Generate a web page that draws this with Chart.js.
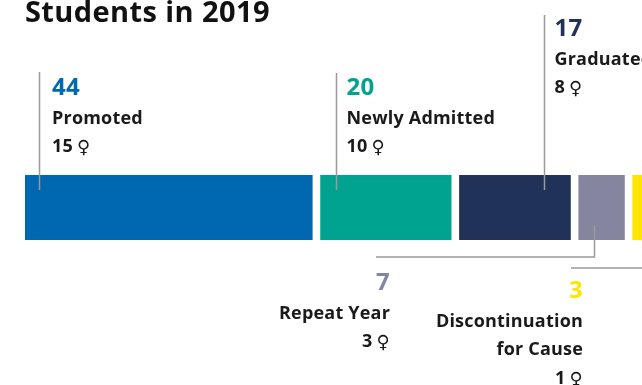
<!DOCTYPE html>
<html lang="en">
<head>
    <meta charset="UTF-8">
    <title>Students in 2019</title>
    <script src="https://cdn.jsdelivr.net/npm/chart.js"></script>
    <style>
        html, body {
            margin: 0;
            padding: 0;
            background: #fff;
            overflow: hidden;
        }
    </style>
</head>
<body>
    <canvas id="studentsCanvas" width="642" height="385"></canvas>

    <script>
        // Data
        const categories = [
            ['Promoted'],
            ['Newly Admitted'],
            ['Graduated'],
            ['Repeat Year'],
            ['Discontinuation', 'for Cause'],
        ];
        const students = [44, 20, 17, 7, 3];
        const women = [15, 10, 8, 3, 1];
        const colors = ['#0067b1', '#00a38f', '#213259', '#8585a0', '#ffe500'];

        // segments sit side by side with a small white gap between them
        const gap = 1.27;
        const starts = [];
        let run = 0;
        students.forEach((v) => { starts.push(run); run += v + gap; });

        // where each callout goes (pixels)
        const callouts = [
            { side: 'top', lineDx: 13.5, lineTop: 72, textDx: 12.5, baseY: 95 },
            { side: 'top', lineDx: 15, lineTop: 73, textDx: 10, baseY: 95 },
            { side: 'top', lineDx: 85, lineTop: 15, textDx: 10, baseY: 36 },
            { side: 'bottom', lineDx: 15, elbowY: 257, elbowX: 376, textX: 390, baseY: 290 },
            { side: 'bottom', lineDx: 15, elbowY: 268, elbowX: 571, textX: 583, baseY: 298 },
        ];

        const labelFont = '700 18px "Open Sans"';
        const symbolFont = '700 18px "DejaVu Sans"';

        const calloutPlugin = {
            id: 'callouts',
            afterDatasetsDraw(chart) {
                const ctx = chart.ctx;
                const x = chart.scales.x;
                const area = chart.chartArea;
                ctx.save();

                ctx.fillStyle = '#111';
                ctx.font = '700 29px "Open Sans"';
                ctx.letterSpacing = '0.4px';
                ctx.textBaseline = 'alphabetic';
                ctx.textAlign = 'left';
                ctx.fillText('Students in 2019', 25, 22);
                ctx.letterSpacing = '0.2px';

                ctx.strokeStyle = '#9a9a9a';
                ctx.lineWidth = 1.5;

                callouts.forEach((c, i) => {
                    const lx = Math.round(x.getPixelForValue(starts[i]) + c.lineDx) + 0.5;
                    const right = c.side === 'bottom';
                    ctx.beginPath();
                    let tx;
                    if (!right) {
                        ctx.moveTo(lx, c.lineTop);
                        ctx.lineTo(lx, area.top + 15);
                        tx = lx + c.textDx;
                    } else {
                        ctx.moveTo(lx, area.bottom - 15);
                        ctx.lineTo(lx, c.elbowY);
                        ctx.lineTo(c.elbowX, c.elbowY);
                        tx = c.textX;
                    }
                    ctx.stroke();
                    ctx.textAlign = right ? 'right' : 'left';

                    let y = c.baseY;
                    ctx.fillStyle = colors[i];
                    ctx.font = '700 24px "Open Sans"';
                    ctx.fillText(String(students[i]), tx, y);

                    ctx.fillStyle = '#1a1a1a';
                    ctx.font = labelFont;
                    categories[i].forEach((line) => {
                        y += 28.5;
                        ctx.fillText(line, tx, y);
                    });
                    y += 28.5;

                    // count of women followed by the female sign
                    ctx.textAlign = 'left';
                    const num = String(women[i]);
                    ctx.font = labelFont;
                    const numW = ctx.measureText(num).width;
                    ctx.font = symbolFont;
                    const symW = ctx.measureText('\u2640').width;
                    const space = 4;
                    const x0 = right ? tx - numW - space - symW : tx;
                    ctx.font = labelFont;
                    ctx.fillText(num, x0, y);
                    ctx.font = symbolFont;
                    ctx.fillText('\u2640', x0 + numW + space, y + 1);
                });
                ctx.restore();
            },
        };

        const config = {
            type: 'bar',
            data: {
                labels: ['2019'],
                datasets: categories.map((name, i) => ({
                    label: name.join(' '),
                    data: [[starts[i], starts[i] + students[i]]],
                    backgroundColor: colors[i],
                    borderWidth: 0,
                    grouped: false,
                    barPercentage: 1,
                    categoryPercentage: 1,
                })),
            },
            options: {
                indexAxis: 'y',
                responsive: false,
                animation: false,
                layout: {
                    padding: { left: 25, right: 0, top: 175, bottom: 145 },
                },
                plugins: {
                    legend: { display: false },
                    tooltip: { enabled: false },
                },
                scales: {
                    x: { display: false, min: 0, max: 94.5 },
                    y: { display: false },
                },
            },
            plugins: [calloutPlugin],
        };

        new Chart(document.getElementById('studentsCanvas'), config);
    </script>
</body>
</html>
